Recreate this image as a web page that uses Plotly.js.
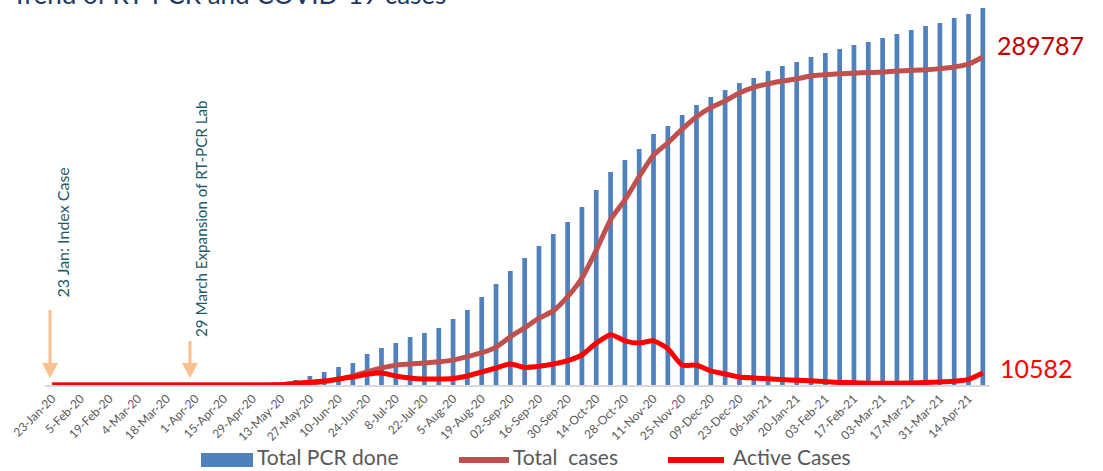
<!DOCTYPE html>
<html>
<head>
<meta charset="utf-8">
<script src="https://cdn.plot.ly/plotly-3.0.1.min.js"></script>
<style>html,body{margin:0;padding:0;background:#fff;}#chart{width:1103px;height:471px;}</style>
</head>
<body>
<div id="chart"></div>
<script>
// ---- data ----
const categories = [
 "23-Jan-20","29-Jan-20","5-Feb-20","12-Feb-20","19-Feb-20","26-Feb-20","4-Mar-20","11-Mar-20",
 "18-Mar-20","25-Mar-20","1-Apr-20","8-Apr-20","15-Apr-20","22-Apr-20","29-Apr-20","6-May-20",
 "13-May-20","20-May-20","27-May-20","3-Jun-20","10-Jun-20","17-Jun-20","24-Jun-20","1-Jul-20",
 "8-Jul-20","15-Jul-20","22-Jul-20","29-Jul-20","5-Aug-20","12-Aug-20","19-Aug-20","26-Aug-20",
 "02-Sep-20","09-Sep-20","16-Sep-20","23-Sep-20","30-Sep-20","07-Oct-20","14-Oct-20","21-Oct-20",
 "28-Oct-20","04-Nov-20","11-Nov-20","18-Nov-20","25-Nov-20","02-Dec-20","09-Dec-20","16-Dec-20",
 "23-Dec-20","30-Dec-20","06-Jan-21","13-Jan-21","20-Jan-21","27-Jan-21","03-Feb-21","10-Feb-21",
 "17-Feb-21","24-Feb-21","03-Mar-21","10-Mar-21","17-Mar-21","24-Mar-21","31-Mar-21","07-Apr-21",
 "14-Apr-21","21-Apr-21"
];
const tickLabels = [
 "23-Jan-20","5-Feb-20","19-Feb-20","4-Mar-20","18-Mar-20","1-Apr-20","15-Apr-20","29-Apr-20",
 "13-May-20","27-May-20","10-Jun-20","24-Jun-20","8-Jul-20","22-Jul-20","5-Aug-20","19-Aug-20",
 "02-Sep-20","16-Sep-20","30-Sep-20","14-Oct-20","28-Oct-20","11-Nov-20","25-Nov-20","09-Dec-20",
 "23-Dec-20","06-Jan-21","20-Jan-21","03-Feb-21","17-Feb-21","03-Mar-21","17-Mar-21","31-Mar-21",
 "14-Apr-21"
];
const totalPCR = [
 0,0,0,0,0,0,0,0,0,0,0,500,1000,1500,2000,2500,
 3000,32500,58500,84500,117000,143000,201500,240500,
 273000,312000,338000,370500,429000,487500,572000,656500,
 741000,825500,903500,981500,1059500,1157000,1267500,1384500,
 1462500,1534000,1631500,1683500,1755000,1820000,1872000,1917500,
 1963000,1995500,2041000,2073500,2099500,2132000,2158000,2184000,
 2210000,2229500,2255500,2281500,2307500,2333500,2353000,2385500,
 2411500,2450500
];
const totalCases = [
 1,1,1,1,1,1,1,1,1,5,9,9,16,48,57,101,
 250,500,1500,3000,5000,8000,11500,15000,
 17500,18500,19500,20500,22000,25000,28500,33500,
 42500,50500,59000,65500,78000,94500,119000,146000,
 163500,184000,203000,214000,226000,237000,245000,251000,
 258000,263000,266000,268500,270500,273000,274000,275000,
 275500,276000,276500,277500,278000,278500,279500,281000,
 283500,289787
];
const activeCases = [
 1,1,1,1,1,1,1,1,1,4,8,8,13,30,40,70,
 200,1500,2500,3500,5300,7000,9500,10500,
 8000,6200,5300,5300,5800,8000,11500,15000,
 18500,15500,16500,18500,21500,26500,37000,44500,
 39000,37000,39000,32000,17700,17500,12500,9700,
 7100,6200,5500,4800,4200,3800,3000,2300,
 2000,1600,1500,1600,1800,2200,2700,3300,
 5000,10582
];
const seriesNames = ["Total PCR done", "Total  cases", "Active Cases"];
const titleText = "Trend of RT-PCR and COVID-19 cases";
const eventLabels = ["23 Jan: Index Case", "29 March Expansion of RT-PCR Lab"];

// ---- geometry helpers (pixel -> paper) ----
const W = 1103, H = 471;
const M = {l: 45, r: 113, t: 5, b: 86};
const PW = W - M.l - M.r, PH = H - M.t - M.b;
const px = x => (x - M.l) / PW;
const py = y => (H - M.b - y) / PH;

const FONT = "Lato, 'Open Sans', sans-serif";
const cBar = "#4F81BD", cTotal = "#C0504D", cActive = "#FF0000", cArrow = "#FAC090", cNote = "#215A68";

const traces = [
 {type: "bar", x: categories, y: totalPCR, name: seriesNames[0], marker: {color: cBar}, width: 0.33, yaxis: "y", hoverinfo: "skip"},
 {type: "scatter", mode: "lines", x: categories, y: totalCases, name: seriesNames[1], yaxis: "y2",
  line: {color: cTotal, width: 5, shape: "spline", smoothing: 0.6}},
 {type: "scatter", mode: "lines", x: categories, y: activeCases, name: seriesNames[2], yaxis: "y2",
  line: {color: cActive, width: 5, shape: "spline", smoothing: 0.6}}
];

function arrowShapes(xp, yTail, yTip) {
  const x = px(xp);
  const hw = 8 / PW, headH = 15;
  return [
    {type: "line", xref: "paper", yref: "paper", x0: x, x1: x, y0: py(yTail), y1: py(yTip - headH + 1),
     line: {color: cArrow, width: 3}},
    {type: "path", xref: "paper", yref: "paper",
     path: `M ${x - hw} ${py(yTip - headH)} L ${x + hw} ${py(yTip - headH)} L ${x} ${py(yTip)} Z`,
     fillcolor: cArrow, line: {color: cArrow, width: 0}}
  ];
}

const shapes = [].concat(
  arrowShapes(50, 310, 378),
  arrowShapes(190, 341, 378),
  [
    {type: "rect", xref: "paper", yref: "paper", x0: px(201), x1: px(253), y0: py(467), y1: py(453),
     fillcolor: cBar, line: {width: 0}},
    {type: "line", xref: "paper", yref: "paper", x0: px(459), x1: px(509), y0: py(460), y1: py(460),
     line: {color: cTotal, width: 6}},
    {type: "line", xref: "paper", yref: "paper", x0: px(668), x1: px(724), y0: py(460), y1: py(460),
     line: {color: cActive, width: 6}}
  ]
);

const lastTotal = totalCases[totalCases.length - 1];
const lastActive = activeCases[activeCases.length - 1];

const legendFont = {family: FONT, size: 21, color: "#595959"};
const annotations = [
  {text: titleText, xref: "paper", yref: "paper", x: px(10), y: py(12), xanchor: "left", yanchor: "bottom",
   showarrow: false, font: {family: FONT, size: 26, color: "#1F3864"}},
  {text: eventLabels[0], xref: "paper", yref: "paper", x: px(50), y: py(233), textangle: -90,
   showarrow: false, font: {family: FONT, size: 16, color: cNote}},
  {text: eventLabels[1], xref: "paper", yref: "paper", x: px(190), y: py(219), textangle: -90,
   showarrow: false, font: {family: FONT, size: 15.2, color: cNote}},
  {text: String(lastTotal), xref: "paper", yref: "paper", x: px(995), y: py(45), xanchor: "left", yanchor: "middle",
   showarrow: false, font: {family: FONT, size: 25, color: "#C00000"}},
  {text: String(lastActive), xref: "paper", yref: "paper", x: px(998), y: py(368), xanchor: "left", yanchor: "middle",
   showarrow: false, font: {family: FONT, size: 25, color: cActive}},
  {text: seriesNames[0], xref: "paper", yref: "paper", x: px(256), y: py(457), xanchor: "left", yanchor: "middle",
   borderpad: 0, showarrow: false, font: legendFont},
  {text: seriesNames[1].replace("  ", "&nbsp; "), xref: "paper", yref: "paper", x: px(512), y: py(457), xanchor: "left", yanchor: "middle",
   borderpad: 0, showarrow: false, font: legendFont},
  {text: seriesNames[2], xref: "paper", yref: "paper", x: px(732), y: py(457), xanchor: "left", yanchor: "middle",
   borderpad: 0, showarrow: false, font: legendFont}
];

const layout = {
  width: W, height: H,
  margin: M,
  paper_bgcolor: "#fff", plot_bgcolor: "rgba(0,0,0,0)",
  showlegend: false,
  xaxis: {
    type: "category", categoryorder: "array", categoryarray: categories,
    range: [-0.5, categories.length - 0.5],
    tickmode: "array", tickvals: tickLabels, ticktext: tickLabels,
    tickangle: -45, tickfont: {family: FONT, size: 12, color: "#595959"},
    ticks: "", showgrid: false, zeroline: false,
    showline: true, linecolor: "#D9D9D9", linewidth: 2
  },
  yaxis: {range: [0, 2470000], visible: false, fixedrange: true},
  yaxis2: {range: [0, 335700], overlaying: "y", visible: false, fixedrange: true},
  shapes: shapes,
  annotations: annotations
};

Plotly.newPlot("chart", traces, layout, {displayModeBar: false, staticPlot: true});
</script>
</body>
</html>
